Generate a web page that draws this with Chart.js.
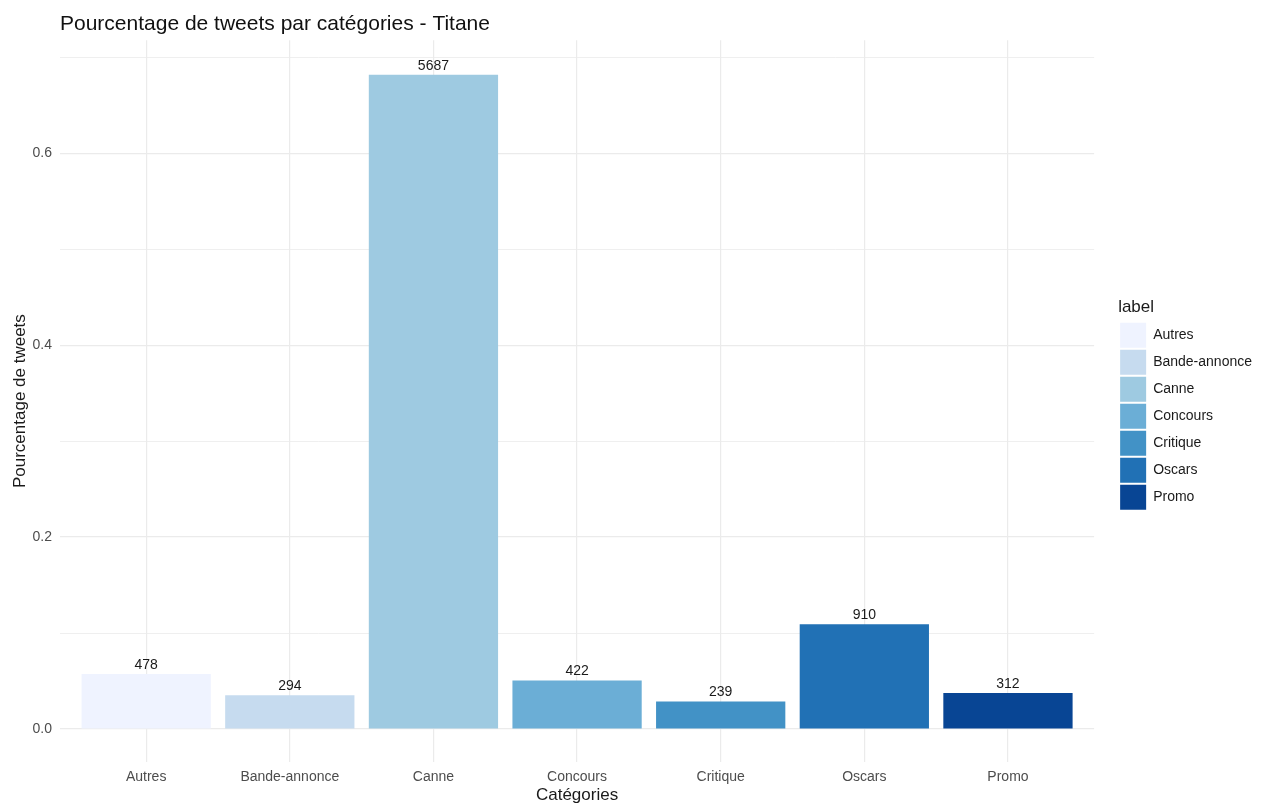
<!DOCTYPE html>
<html>
<head>
<meta charset="utf-8">
<script src="https://cdn.jsdelivr.net/npm/chart.js@4"></script>
<style>
  body { margin: 0; background: #fff; }
  #wrap { width: 1273px; height: 811px; }
</style>
</head>
<body>
<div id="wrap"><canvas id="titaneChart" width="1273" height="811"></canvas></div>
<script>
// =======================================================
// Données
// =======================================================

const categories = ["Autres", "Bande-annonce", "Canne", "Concours", "Critique", "Oscars", "Promo"];
const tweetCounts = [478, 294, 5687, 422, 239, 910, 312];
const tweetShares = [0.0573, 0.0352, 0.6817, 0.0506, 0.0287, 0.1091, 0.0374];
const barColors = ["#eff3ff", "#c6dbef", "#9ecae1", "#6baed6", "#4292c6", "#2171b5", "#084594"];

const yTickValues = [0, 0.2, 0.4, 0.6];
const yTickLabels = ["0.0", "0.2", "0.4", "0.6"];
const yMinorValues = [0.1, 0.3, 0.5, 0.7];

Chart.defaults.font.family = "'Liberation Sans', Arial, sans-serif";
Chart.defaults.animation = false;

// =======================================================
// Étiquettes au-dessus des barres
// =======================================================

const countLabels = {
    id: "countLabels",
    afterDatasetsDraw(chart) {
        const ctx = chart.ctx;
        const meta = chart.getDatasetMeta(0);
        ctx.save();
        ctx.font = "14px 'Liberation Sans', Arial, sans-serif";
        ctx.fillStyle = "#1a1a1a";
        ctx.textAlign = "center";
        ctx.textBaseline = "bottom";
        meta.data.forEach((bar, i) => {
            ctx.fillText(String(tweetCounts[i]), bar.x, bar.y - 2);
        });
        ctx.restore();
    }
};

// =======================================================
// Graphique
// =======================================================

new Chart(document.getElementById("titaneChart"), {

    type: "bar",

    data: {
        datasets: [{
            label: "label",
            data: tweetShares.map((v, i) => ({ x: i + 1, y: v })),
            backgroundColor: barColors,
            borderWidth: 0,
            barPercentage: 0.9,
            categoryPercentage: 1
        }]
    },

    options: {
        responsive: false,
        layout: { padding: { left: 0, right: 11, top: 0, bottom: 0 } },

        scales: {
            x: {
                type: "linear",
                min: 0.4,
                max: 7.6,
                offset: false,
                afterBuildTicks: s => { s.ticks = categories.map((c, i) => ({ value: i + 1 })); },
                afterFit: s => { s.height = 49; },
                ticks: {
                    callback: v => categories[v - 1],
                    color: "#4d4d4d",
                    font: { size: 14 },
                    padding: 7,
                    maxRotation: 0,
                    autoSkip: false
                },
                grid: { color: "#ebebeb", lineWidth: 1.2, drawTicks: false, offset: false },
                border: { display: false },
                title: {
                    display: true,
                    text: "Catégories",
                    color: "#1a1a1a",
                    font: { size: 17 },
                    padding: { top: 0, bottom: 5 }
                }
            },
            y: {
                min: -0.0344,
                max: 0.7177,
                afterBuildTicks: s => {
                    s.ticks = yTickValues.concat(yMinorValues).sort((a, b) => a - b).map(v => ({ value: v }));
                },
                afterFit: s => { s.width = 60; },
                ticks: {
                    callback: v => {
                        const k = yTickValues.indexOf(v);
                        return k >= 0 ? yTickLabels[k] : "";
                    },
                    color: "#4d4d4d",
                    font: { size: 14 },
                    padding: 8
                },
                grid: {
                    color: "#ebebeb",
                    lineWidth: c => (yTickValues.indexOf(c.tick.value) >= 0 ? 1.2 : 0.8),
                    drawTicks: false
                },
                border: { display: false },
                title: {
                    display: true,
                    text: "Pourcentage de tweets",
                    color: "#1a1a1a",
                    font: { size: 17 },
                    padding: { top: 10, bottom: 2 }
                }
            },
            gap: {
                type: "linear",
                position: "right",
                display: true,
                grid: { display: false },
                border: { display: false },
                ticks: { display: false },
                afterFit: s => { s.width = 24; }
            }
        },

        plugins: {
            title: {
                display: true,
                text: "Pourcentage de tweets par catégories - Titane",
                align: "start",
                fullSize: false,
                color: "#111111",
                font: { size: 21, weight: "normal" },
                padding: { top: 12, bottom: 3 }
            },
            legend: {
                position: "right",
                onClick: null,
                title: {
                    display: true,
                    text: "label",
                    position: "start",
                    color: "#1a1a1a",
                    font: { size: 17 },
                    padding: { top: 0, bottom: 1 }
                },
                labels: {
                    boxWidth: 26,
                    boxHeight: 25,
                    padding: 2,
                    color: "#1a1a1a",
                    font: { size: 14 },
                    generateLabels: () => categories.map((c, i) => ({
                        text: c,
                        fillStyle: barColors[i],
                        strokeStyle: barColors[i],
                        lineWidth: 0,
                        hidden: false,
                        index: i
                    }))
                }
            },
            tooltip: { enabled: false }
        }
    },

    plugins: [countLabels]

});
</script>
</body>
</html>
